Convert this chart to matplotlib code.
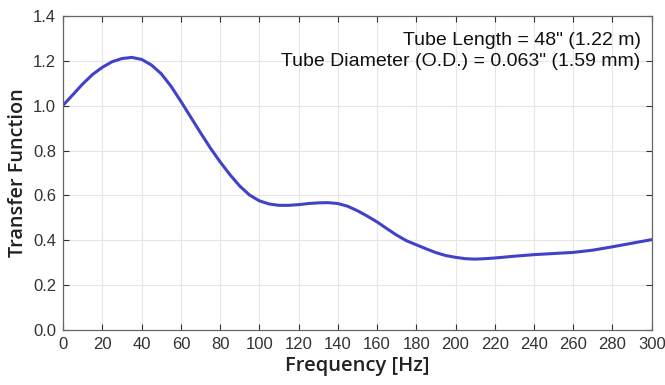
import matplotlib
matplotlib.use("Agg")
import matplotlib.pyplot as plt
from matplotlib.ticker import FormatStrFormatter

# frecuencia [Hz] y funcion de transferencia
freq = [0, 5, 10, 15, 20, 25, 30, 35, 40, 45, 50, 55, 60, 65, 70, 75, 80, 85,
        90, 95, 100, 105, 110, 115, 120, 125, 130, 135, 140, 145, 150, 155,
        160, 165, 170, 175, 180, 185, 190, 195, 200, 205, 210, 215, 220, 230,
        240, 250, 260, 270, 280, 290, 300]
tf = [1.003, 1.05, 1.098, 1.14, 1.172, 1.197, 1.211, 1.216, 1.207, 1.182,
      1.143, 1.087, 1.02, 0.95, 0.88, 0.812, 0.75, 0.693, 0.642, 0.602, 0.576,
      0.562, 0.556, 0.556, 0.559, 0.564, 0.567, 0.568, 0.564, 0.552, 0.532,
      0.508, 0.482, 0.452, 0.423, 0.398, 0.380, 0.362, 0.345, 0.332, 0.324,
      0.318, 0.316, 0.318, 0.321, 0.329, 0.336, 0.341, 0.346, 0.356, 0.371,
      0.387, 0.403]

xticks = list(range(0, 301, 20))
yticks = [0.0, 0.2, 0.4, 0.6, 0.8, 1.0, 1.2, 1.4]
note = ['Tube Length = 48" (1.22 m)', 'Tube Diameter (O.D.) = 0.063" (1.59 mm)']

plt.rcParams['font.family'] = ['Liberation Sans', 'DejaVu Sans']

fig = plt.figure(figsize=(6.65, 3.85), dpi=100)
ax = fig.add_axes([0.095, 0.143, 0.885, 0.815])

ax.plot(freq, tf, color='#4242c8', linewidth=2.2, solid_capstyle='round',
        solid_joinstyle='round')

ax.set_xlim(0, 300)
ax.set_ylim(0, 1.4)
ax.set_xticks(xticks)
ax.set_yticks(yticks)
ax.yaxis.set_major_formatter(FormatStrFormatter('%.1f'))
ax.grid(True, color='#e6e6e6', linewidth=0.8)
ax.tick_params(direction='in', length=4, top=True, right=True,
               labelsize=12, colors='#333333', pad=5)
for s in ax.spines.values():
    s.set_color('#666666')
    s.set_linewidth(0.9)

ax.set_xlabel('Frequency [Hz]', family='Open Sans', fontsize=14.5,
              fontweight='semibold', color='#222222', labelpad=3)
ax.set_ylabel('Transfer Function', family='Open Sans', fontsize=14.3,
              fontweight='semibold', color='#222222', labelpad=4)

ax.text(0.981, 0.924, note[0], transform=ax.transAxes, ha='right', va='center',
        fontsize=14, color='#111111')
ax.text(0.981, 0.854, note[1], transform=ax.transAxes, ha='right', va='center',
        fontsize=14, color='#111111')

fig.savefig('out.png', dpi=100)
